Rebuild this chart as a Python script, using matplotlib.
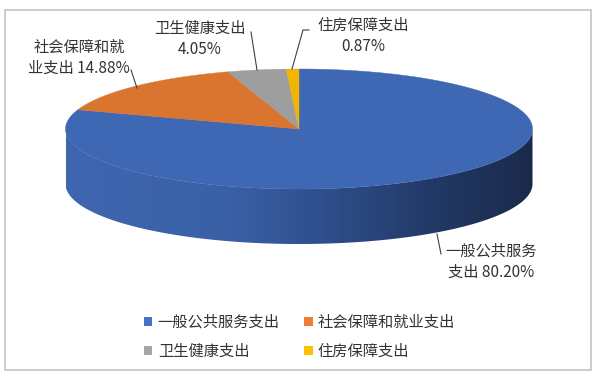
import numpy as np
import matplotlib.pyplot as plt
from matplotlib.patches import Polygon, Patch, Rectangle
from matplotlib.colors import LinearSegmentedColormap

plt.rcParams['font.family'] = ['Noto Sans CJK SC', 'DejaVu Sans']

# data
categories = ["一般公共服务支出", "社会保障和就业支出", "卫生健康支出", "住房保障支出"]
label_heads = ["一般公共服务\n支出 ", "社会保障和就\n业支出 ", "卫生健康支出\n", "住房保障支出\n"]
shares = [80.20, 14.88, 4.05, 0.87]

top_colors = ["#3e68b3", "#da752f", "#9e9e9e", "#efb500"]
legend_colors = ["#4472c4", "#ed7d31", "#a5a5a5", "#ffc000"]

# layout (pixel space of a 600x381 canvas)
cx, cy = 299.0, 129.0      # centre of top face
rx, ry = 233.5, 60.0       # ellipse radii
depth = 55.0               # pie thickness
label_xy = [(491, 262), (79, 58), (200, 39), (363, 36)]
leaders = [
    [(437, 234), (441, 254)],
    [(137, 88), (131, 70)],
    [(257, 70), (251, 32)],
    [(292, 69), (303, 30), (309, 30)],
]
text_color = "#333333"

fig = plt.figure(figsize=(6, 3.81), dpi=100)
ax = fig.add_axes([0, 0, 1, 1])
ax.set_xlim(0, 600)
ax.set_ylim(381, 0)
ax.axis("off")


def rim(t_deg, dy=0.0):
    t = np.radians(t_deg)
    return np.column_stack([cx + rx * np.cos(t), cy - ry * np.sin(t) + dy])


# side wall (front half only is visible)
front = np.linspace(180, 360, 200)
side_pts = np.vstack([rim(front), rim(front[::-1], depth)])
side = Polygon(side_pts, closed=True, facecolor="none", edgecolor="none")
ax.add_patch(side)
side_cmap = LinearSegmentedColormap.from_list(
    "side",
    [(0.0, "#3f67b0"), (0.35, "#3a60a6"), (0.55, "#2f4f8d"),
     (0.8, "#213864"), (1.0, "#1b2a4b")])
grad = np.linspace(0, 1, 256).reshape(1, -1)
img = ax.imshow(grad, cmap=side_cmap, aspect="auto",
                extent=[cx - rx, cx + rx, cy + ry + depth + 2, cy - 2],
                zorder=1)
img.set_clip_path(side)

# top face wedges, clockwise from 12 o'clock
total = sum(shares)
edges = 90 - 360 * np.concatenate([[0], np.cumsum(shares)]) / total
for i, color in enumerate(top_colors):
    arc = np.linspace(edges[i], edges[i + 1], 200)
    pts = np.vstack([[cx, cy], rim(arc)])
    ax.add_patch(Polygon(pts, closed=True, facecolor=color,
                         edgecolor=color, lw=0.3, zorder=2))

# data labels and leader lines
for head, v, (lx, ly), line in zip(label_heads, shares, label_xy, leaders):
    ax.text(lx, ly, f"{head}{v / total * 100:.2f}%", ha="center", va="center",
            fontsize=11, color=text_color, linespacing=1.3, zorder=4)
    xs, ys = zip(*line)
    ax.plot(xs, ys, color="#404040", lw=0.8, zorder=3)

# chart frame
ax.add_patch(Rectangle((4.5, 9.5), 586.5, 360.5, facecolor="none",
                       edgecolor="#c8c8c8", lw=1.3, zorder=5))

# legend filled row by row: matplotlib fills columns, so reorder
order = [0, 2, 1, 3]
handles = [Patch(facecolor=legend_colors[i], edgecolor="none") for i in order]
fig.legend(handles, [categories[i] for i in order], ncol=2, loc="upper left",
           bbox_to_anchor=(144 / 600, 1 - 314 / 381), frameon=False,
           borderpad=0, borderaxespad=0, handlelength=0.55, handleheight=0.55,
           handletextpad=0.35, columnspacing=1.6, labelspacing=0.8,
           prop={"size": 11}, labelcolor=text_color)

fig.savefig("out.png", dpi=100)
